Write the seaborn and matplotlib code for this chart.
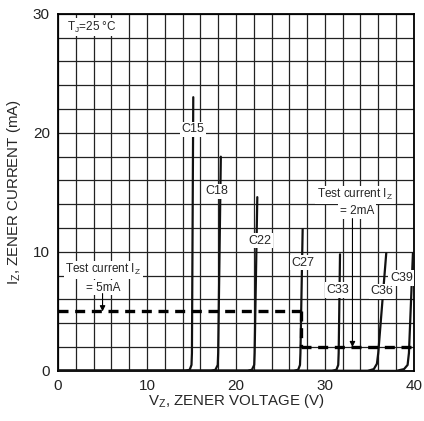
import numpy as np
import pandas as pd
import matplotlib
matplotlib.use('Agg')
import matplotlib.pyplot as plt
import seaborn as sns

# zener curves (V, mA)
c15_v = [0, 14.3, 14.8, 15.0, 15.05, 15.2]
c15_i = [0, 0, 0.1, 0.5, 1.5, 23.0]
c18_v = [0, 17.2, 17.7, 17.95, 18.0, 18.3]
c18_i = [0, 0, 0.1, 0.5, 1.5, 18.0]
c22_v = [0, 21.3, 21.8, 22.05, 22.1, 22.4]
c22_i = [0, 0, 0.1, 0.5, 1.5, 14.6]
c27_v = [0, 26.5, 27.0, 27.2, 27.25, 27.5]
c27_i = [0, 0, 0.1, 0.5, 1.5, 11.9]
c33_v = [0, 30.8, 31.3, 31.5, 31.55, 31.7]
c33_i = [0, 0, 0.1, 0.5, 1.5, 9.8]
c36_v = [0, 34.8, 35.5, 35.85, 36.0, 36.9]
c36_i = [0, 0, 0.15, 0.6, 1.5, 9.9]
c39_v = [0, 38.0, 38.9, 39.3, 39.45, 39.9]
c39_i = [0, 0, 0.15, 0.5, 1.5, 9.9]

names = ['C15', 'C18', 'C22', 'C27', 'C33', 'C36', 'C39']
label_v = [15.2, 17.8, 22.7, 27.5, 31.5, 36.4, 38.6]
label_i = [20.3, 15.1, 10.95, 9.1, 6.8, 6.7, 7.8]

# test current guide lines
test5_v = [0, 27.3]
test5_i = [5, 5]
step_v = [27.3, 27.3]
step_i = [5, 2]
test2_v = [27.3, 40]
test2_i = [2, 2]

curves = {'C15': (c15_v, c15_i), 'C18': (c18_v, c18_i), 'C22': (c22_v, c22_i),
          'C27': (c27_v, c27_i), 'C33': (c33_v, c33_i), 'C36': (c36_v, c36_i),
          'C39': (c39_v, c39_i)}

sns.set_theme(style='white')
plt.rcParams['font.family'] = ['Liberation Sans', 'DejaVu Sans']

fig = plt.figure(figsize=(4.24, 4.21), dpi=100)
ax = fig.add_axes([0.137, 0.119, 0.839, 0.848])

for n in names:
    v, i = curves[n]
    sns.lineplot(x=v, y=i, ax=ax, sort=False, estimator=None, color='#111111',
                 linewidth=1.6, zorder=4)

for v, i in [(test5_v, test5_i), (step_v, step_i), (test2_v, test2_i)]:
    sns.lineplot(x=v, y=i, ax=ax, sort=False, estimator=None, color='black',
                 linewidth=2.4, dashes=False, linestyle=(0, (3, 2)), zorder=5)

box = dict(facecolor='white', edgecolor='none', pad=1.2)
for n, x, y in zip(names, label_v, label_i):
    ax.text(x, y, n, ha='center', va='center', fontsize=9, bbox=box, zorder=6)

ax.text(1.0, 28.9, 'T$_\\mathregular{J}$=25 \u00b0C', ha='left', va='center',
        fontsize=8.5, bbox=box, zorder=6)

ax.text(5.1, 8.5, 'Test current I$_\\mathregular{Z}$', ha='center', va='center',
        fontsize=8.5, bbox=box, zorder=6)
ax.text(5.1, 7.0, '= 5mA', ha='center', va='center', fontsize=8.5, bbox=box, zorder=6)
ax.annotate('', xy=(5.0, 5.0), xytext=(5.0, 6.5),
            arrowprops=dict(arrowstyle='-|>', color='black', lw=0.8,
                            mutation_scale=8, shrinkA=0, shrinkB=0), zorder=7)

ax.text(33.4, 14.8, 'Test current I$_\\mathregular{Z}$', ha='center', va='center',
        fontsize=8.5, bbox=box, zorder=6)
ax.text(33.6, 13.4, '= 2mA', ha='center', va='center', fontsize=8.5, bbox=box, zorder=6)
ax.annotate('', xy=(33.1, 2.0), xytext=(33.1, 12.8),
            arrowprops=dict(arrowstyle='-|>', color='black', lw=0.8,
                            mutation_scale=8, shrinkA=0, shrinkB=0), zorder=7)

ax.set_xlim(0, 40)
ax.set_ylim(0, 30)
ax.set_xticks(np.arange(0, 41, 2), minor=True)
ax.set_yticks(np.arange(0, 31, 2), minor=True)
ax.set_xticks([0, 10, 20, 30, 40])
ax.set_yticks([0, 10, 20, 30])
ax.grid(True, which='both', color='#222222', linewidth=0.9, zorder=1)
ax.set_axisbelow(True)
ax.tick_params(which='both', length=0, labelsize=11, pad=6, colors='#222222')
for s in ax.spines.values():
    s.set_color('black')
    s.set_linewidth(1.3)

ax.set_xlabel('V$_\\mathregular{Z}$, ZENER VOLTAGE (V)', fontsize=10.8, labelpad=-1)
ax.set_ylabel('I$_\\mathregular{Z}$, ZENER CURRENT (mA)', fontsize=10.8, labelpad=7)

fig.savefig('out.png', dpi=100)
